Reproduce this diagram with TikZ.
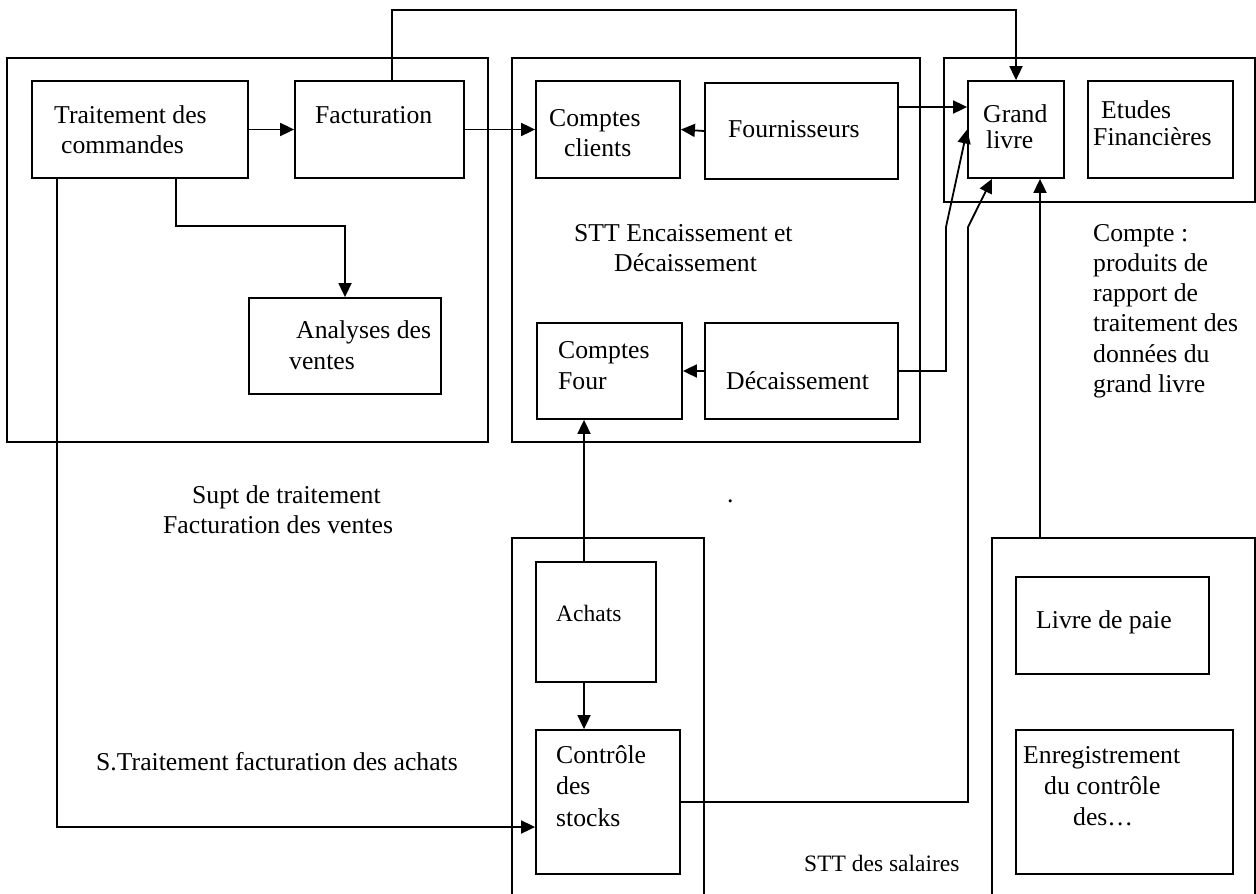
\documentclass[tikz,border=0pt]{standalone}
\usepackage{fontspec}
\setmainfont{Liberation Serif}
\usetikzlibrary{arrows.meta,fit}
\begin{document}
\begin{tikzpicture}[x=1pt,y=-1pt,
 box/.style={draw,line width=1.8pt,inner sep=0pt},
 arr/.style={line width=1.8pt,-{Triangle[length=14pt,width=13pt]}},
 txt/.style={anchor=base west,inner sep=0pt,font=\fontsize{25.7}{30}\selectfont},
 stxt/.style={anchor=base west,inner sep=0pt,font=\fontsize{23.5}{28}\selectfont}]
\useasboundingbox (0,0) rectangle (1256,894);
\fill[white] (0,0) rectangle (1256,894);
\clip (0,0) rectangle (1256,894);
% group boxes
\node[box,fit={(7,58)(488,442)}] (g1) {};
\node[box,fit={(512,58)(920,442)}] (g2) {};
\node[box,fit={(944,58)(1255,202)}] (g5) {};
\node[box,fit={(512,538)(704,920)}] (g3) {};
\node[box,fit={(992,538)(1255,920)}] (g4) {};
% inner boxes
\node[box,fit={(32,81)(248,178)}] (tc) {};
\node[box,fit={(295,81)(464,178)}] (fact) {};
\node[box,fit={(249,298)(441,394)}] (av) {};
\node[box,fit={(536,81)(680,178)}] (cc) {};
\node[box,fit={(705,83)(898,179)}] (fo) {};
\node[box,fit={(537,323)(682,419)}] (cf) {};
\node[box,fit={(705,323)(898,419)}] (dec) {};
\node[box,fit={(968,81)(1064,178)}] (gl) {};
\node[box,fit={(1088,81)(1233,178)}] (ef) {};
\node[box,fit={(536,562)(656,682)}] (ach) {};
\node[box,fit={(536,730)(680,874)}] (cs) {};
\node[box,fit={(1016,577)(1209,674)}] (lp) {};
\node[box,fit={(1016,730)(1233,874)}] (enr) {};
% texts
\node[txt] (t1) at (54,123) {Traitement des};
\node[txt] (t2) at (61,153) {commandes};
\node[txt] (t3) at (315,123) {Facturation};
\node[txt] (t4) at (296,338) {Analyses des};
\node[txt] (t5) at (289,369) {ventes};
\node[txt] (t6) at (549,126) {Comptes};
\node[txt] (t7) at (564,156) {clients};
\node[txt] (t8) at (728,137) {Fournisseurs};
\node[txt] (t9) at (574,241) {STT Encaissement et};
\node[txt] (t10) at (614,271) {Décaissement};
\node[txt] (t11) at (558,358) {Comptes};
\node[txt] (t12) at (558,389) {Four};
\node[txt] (t13) at (726,389) {Décaissement};
\node[txt] (t14) at (983,122) {Grand};
\node[txt] (t15) at (986,148) {livre};
\node[txt] (t16) at (1101,118) {Etudes};
\node[txt] (t17) at (1093,145) {Financières};
\node[txt] (t18) at (1093,241) {Compte :};
\node[txt] (t19) at (1093,271) {produits de};
\node[txt] (t20) at (1093,301) {rapport de};
\node[txt] (t21) at (1093,331) {traitement des};
\node[txt] (t22) at (1093,362) {données du};
\node[txt] (t23) at (1093,392) {grand livre};
\node[txt] (t24) at (192,503) {Supt de traitement};
\node[txt] (t25) at (163,533) {Facturation des ventes};
\node[txt] (t26) at (727,502) {.};
\node[stxt] (t27) at (556,621) {Achats};
\node[txt] (t28) at (556,763) {Contrôle};
\node[txt] (t29) at (556,794) {des};
\node[txt] (t30) at (556,826) {stocks};
\node[txt] (t31) at (96,770) {S.Traitement facturation des achats};
\node[txt] (t32) at (1036,628) {Livre de paie};
\node[txt] (t33) at (1023,763) {Enregistrement};
\node[txt] (t34) at (1044,794) {du contrôle};
\node[txt] (t35) at (1073,825) {des…};
\node[stxt] (t36) at (804,871) {STT des salaires};
% connectors
\coordinate (k1) at (176,226);
\coordinate (k2) at (57,827);
\coordinate (k3) at (0,107);
\coordinate (k4) at (946,227);
\coordinate (k5) at (968,227);
\coordinate (k6) at (992,0);
\coordinate (k7) at (1040,0);
\coordinate (k8) at (584,0);
\coordinate (topL) at (392,10);
\draw[arr] (tc.east) -- (fact.west);
\draw[arr] (fact.north -| topL) -- (topL) -| (gl.north);
\draw[arr] (tc.south -| k1) -- (k1) -| (av.north);
\draw[arr] (tc.south -| k2) -- (k2) -- (cs.west |- k2);
\draw[arr] (fact.east) -- (cc.west);
\draw[arr] (fo.west) -- (cc.east);
\draw[arr] (fo.east |- k3) -- (gl.west |- k3);
\draw[arr] (dec.west) -- (cf.east);
\draw[arr] (dec.east) -- (dec.east -| k4) -- (k4) -- (gl.west);
\draw[arr] (cs.east) -- (cs.east -| k5) -- (k5) -- (gl.south -| k6);
\draw[arr] (g4.north -| k7) -- (gl.south -| k7);
\draw[arr] (ach.south -| k8) -- (cs.north -| k8);
\draw[arr] (ach.north -| k8) -- (cf.south -| k8);
\end{tikzpicture}
\end{document}
